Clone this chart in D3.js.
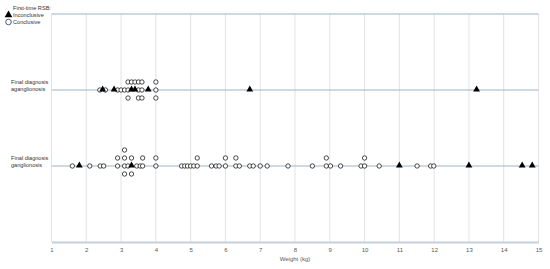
<!DOCTYPE html>
<html><head><meta charset="utf-8">
<script src="https://cdn.jsdelivr.net/npm/d3@7"></script>
<style>
html,body{margin:0;padding:0;background:#fff;}
svg{display:block;font-family:"Liberation Sans",Arial,sans-serif;}
</style></head>
<body><svg id="c" width="550" height="269"></svg>
<script>
// ---- data ----
const xTicks = [1,2,3,4,5,6,7,8,9,10,11,12,13,14,15];
const rowLabels = ["Final diagnosis ganglionosis", "Final diagnosis aganglionosis"];
const gangConclusive = [1.6, 2.1, 2.4, 2.5, 2.9, 2.9, 3.1, 3.1, 3.1, 3.1, 3.2, 3.3, 3.3, 3.45, 3.55, 3.62, 3.62, 4.0, 4.0,
  4.74, 4.83, 4.91, 5.0, 5.09, 5.19, 5.19, 5.6, 5.73, 5.82, 6.0, 6.0, 6.3, 6.3, 6.4, 6.7, 6.8, 7.0, 7.2, 7.8, 8.5,
  8.9, 8.9, 9.02, 9.31, 9.9, 10.0, 10.0, 10.42, 11.51, 11.9, 11.99];
const gangInconclusive = [1.8, 3.3, 11.0, 13.0, 14.53, 14.82];
const agangConclusive = [2.39, 2.55, 2.9, 3.0, 3.1, 3.2, 3.2, 3.2, 3.3, 3.4, 3.5, 3.5, 3.5, 3.6, 3.6, 3.6, 4.0, 4.0, 4.0];
const agangInconclusive = [2.47, 2.8, 3.3, 3.4, 3.78, 6.7, 13.22];
const legendTitle = "First-time RSB:";
const legendItems = ["Inconclusive", "Conclusive"];
const xTitle = "Weight (kg)";

// ---- layout ----
const svg = d3.select("#c");
const x = d3.scaleLinear().domain([1, 15]).range([51.5, 538.5]);
const y = d3.scaleLinear().domain([0, 3]).range([242, 14]);
const stackStep = 8 / 76; // stacking offset in data units

// vertical gridlines
svg.append("g").selectAll("line").data(xTicks).join("line")
  .attr("x1", d => x(d)).attr("x2", d => x(d))
  .attr("y1", y(3)).attr("y2", y(0))
  .attr("stroke", "#e3e3e3").attr("stroke-width", 1);

// horizontal lines
svg.append("g").selectAll("line").data([1, 2, 3]).join("line")
  .attr("x1", x(1)).attr("x2", x(15))
  .attr("y1", d => y(d)).attr("y2", d => y(d))
  .attr("stroke", "#9fb3c8").attr("stroke-width", 1.2);

// x axis
const xAxis = d3.axisBottom(x).tickValues(xTicks).tickSize(0).tickPadding(6).tickFormat(d3.format("d"));
const gx = svg.append("g").attr("transform", `translate(0,${y(0)})`).call(xAxis);
gx.select(".domain").attr("stroke", "#c5d0db").attr("stroke-width", 2);
gx.selectAll("text").attr("font-size", 6).attr("fill", "#595959")
  .attr("font-family", "Liberation Sans, Arial, sans-serif");

svg.append("text").attr("x", 295).attr("y", 261).attr("text-anchor", "middle")
  .attr("font-size", 6).attr("fill", "#595959").text(xTitle);

// row labels
rowLabels.forEach((lab, i) => {
  const words = lab.split(" ");
  const l1 = words.slice(0, 2).join(" "), l2 = words.slice(2).join(" ");
  const yy = y(i + 1);
  const t = svg.append("text").attr("x", 11).attr("font-size", 5.6).attr("fill", "#333");
  t.append("tspan").attr("x", 11).attr("y", yy - 6).text(l1);
  t.append("tspan").attr("x", 11).attr("y", yy + 1).text(l2);
});

// build stacked points
function buildPoints(inconc, conc, level) {
  const pts = inconc.map(v => ({v, type: "inc"})).concat(conc.map(v => ({v, type: "con"})));
  const counts = new Map();
  return pts.map(p => {
    const key = p.v.toFixed(2);
    const k = counts.get(key) || 0;
    counts.set(key, k + 1);
    // order: line, above, below, above2, below2...
    const off = k === 0 ? 0 : (k % 2 === 1 ? Math.ceil(k / 2) : -k / 2);
    return {...p, yv: level + off * stackStep};
  });
}
const allPts = buildPoints(gangInconclusive, gangConclusive, 1)
  .concat(buildPoints(agangInconclusive, agangConclusive, 2));

const tri = d3.symbol().type(d3.symbolTriangle).size(20);
const g = svg.append("g");
g.selectAll("circle").data(allPts.filter(p => p.type === "con")).join("circle")
  .attr("cx", d => x(d.v)).attr("cy", d => y(d.yv)).attr("r", 2.2)
  .attr("fill", "#fff").attr("stroke", "#000").attr("stroke-width", 0.7);
g.selectAll("path").data(allPts.filter(p => p.type === "inc")).join("path")
  .attr("d", tri).attr("transform", d => `translate(${x(d.v)},${y(d.yv) - 0.5})`)
  .attr("fill", "#000");

// legend
svg.append("text").attr("x", 13).attr("y", 10).attr("font-size", 5.6).attr("fill", "#333").text(legendTitle);
svg.append("path").attr("d", d3.symbol().type(d3.symbolTriangle).size(26))
  .attr("transform", "translate(8.5,15)").attr("fill", "#000");
svg.append("circle").attr("cx", 8.5).attr("cy", 22).attr("r", 2.8)
  .attr("fill", "#fff").attr("stroke", "#1f3864").attr("stroke-width", 0.8);
legendItems.forEach((t, i) => {
  svg.append("text").attr("x", 13).attr("y", 17 + i * 7).attr("font-size", 5.6).attr("fill", "#333").text(t);
});
</script>
</body></html>
